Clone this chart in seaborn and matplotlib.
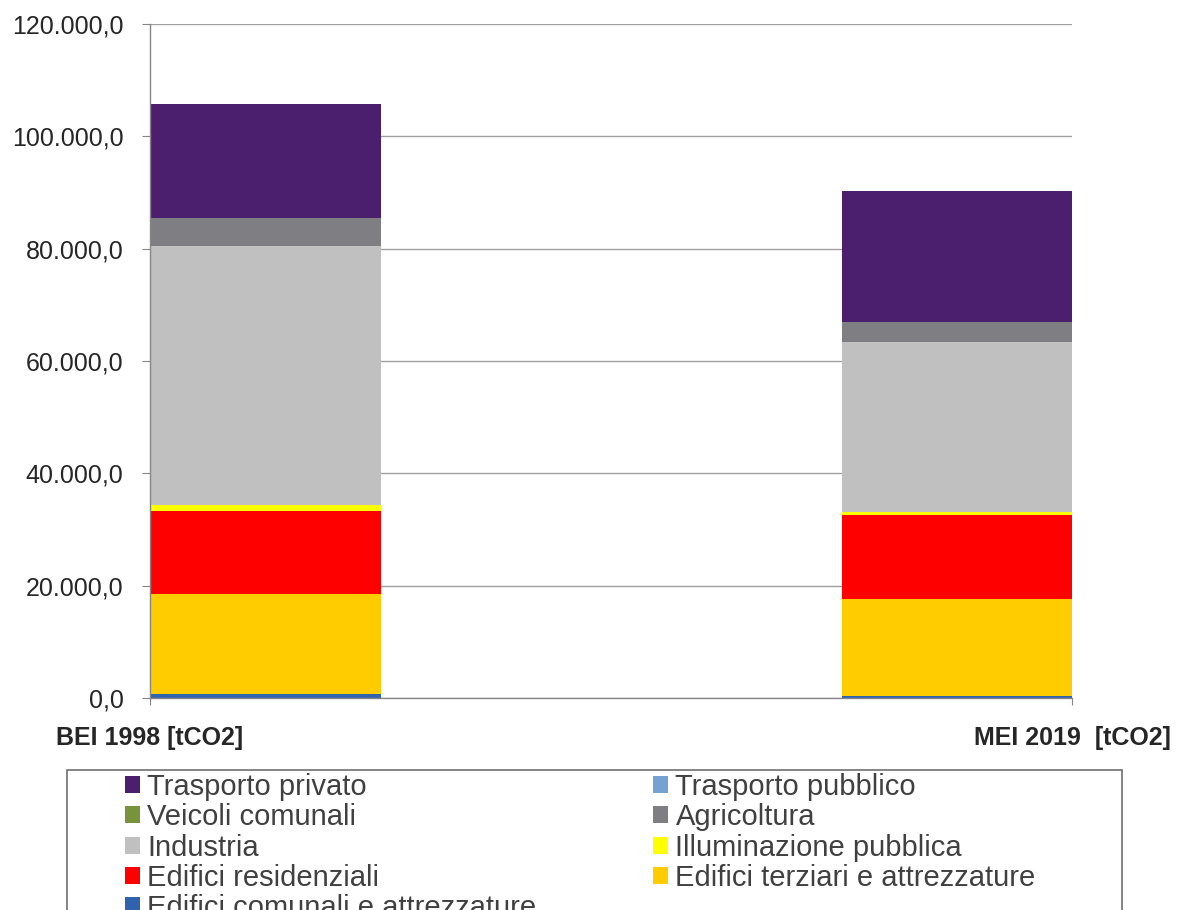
import numpy as np
import pandas as pd
import seaborn as sns
import matplotlib.pyplot as plt
from matplotlib.patches import Patch, Rectangle
from matplotlib.ticker import FuncFormatter, MultipleLocator

# ---- Dati emissioni (tCO2) ----
categorie = ['BEI 1998 [tCO2]', 'MEI 2019  [tCO2]']
edifici_comunali = [700, 400]
edifici_terziari = [17800, 17200]
edifici_residenziali = [14800, 14900]
illuminazione_pubblica = [1000, 600]
industria = [46100, 30250]
agricoltura = [5100, 3650]
veicoli_comunali = [0, 0]
trasporto_pubblico = [0, 0]
trasporto_privato = [20300, 23350]

# ordine di impilamento dal basso verso l'alto
settori = ['Edifici comunali e attrezzature', 'Edifici terziari e attrezzature',
           'Edifici residenziali', 'Illuminazione pubblica', 'Industria',
           'Agricoltura', 'Veicoli comunali', 'Trasporto pubblico', 'Trasporto privato']
valori = [edifici_comunali, edifici_terziari, edifici_residenziali,
          illuminazione_pubblica, industria, agricoltura, veicoli_comunali,
          trasporto_pubblico, trasporto_privato]
colori = ['#3063AE', '#FFCC00', '#FF0000', '#FFFF00', '#C0C0C0',
          '#7F7F83', '#77933C', '#77A1D3', '#4B1F6E']

df = pd.DataFrame(np.array(valori).T, columns=settori)
df['Categoria'] = categorie
cumulato = df[settori].cumsum(axis=1)

sns.set_style('white')
plt.rcParams['font.family'] = ['Liberation Sans', 'DejaVu Sans']

fig = plt.figure(figsize=(11.78, 9.10), dpi=100)
ax = fig.add_axes([150 / 1178, 1 - 698 / 910, (1072 - 150) / 1178, (698 - 24) / 910])

# barre impilate: si disegna prima il cumulato più alto
for settore, colore in reversed(list(zip(settori, colori))):
    sns.barplot(x=df['Categoria'], y=cumulato[settore], color=colore,
                saturation=1, width=0.5, errorbar=None, ax=ax, zorder=3,
                linewidth=0, edgecolor='none')

ax.set_xlim(0, 1)
ax.set_ylim(0, 120000)
ax.yaxis.set_major_locator(MultipleLocator(20000))
ax.yaxis.set_major_formatter(FuncFormatter(
    lambda v, p: f'{v:,.1f}'.replace(',', 'X').replace('.', ',').replace('X', '.')))
ax.set_xticks([0, 1])
ax.set_xticklabels(categorie, fontsize=18, fontweight='bold')
ax.set_xlabel('')
ax.set_ylabel('')

ax.grid(axis='y', color='#A0A0A0', linewidth=1, zorder=0)
ax.set_axisbelow(True)
for s in ['top', 'right']:
    ax.spines[s].set_visible(False)
for s in ['left', 'bottom']:
    ax.spines[s].set_color('#868686')
    ax.spines[s].set_linewidth(1)
    ax.spines[s].set_zorder(4)
ax.tick_params(axis='y', labelsize=18, length=6, color='#868686', pad=13, direction='out', left=True)
ax.tick_params(axis='x', length=5, color='#868686', pad=15, direction='out', bottom=True)

# legenda su due colonne, ordine per righe
ordine_legenda = settori[::-1]
handles = {s: Patch(facecolor=c, edgecolor='none', label=s) for s, c in zip(settori, colori)}
col1 = [ordine_legenda[i] for i in range(0, 9, 2)]
col2 = [ordine_legenda[i] for i in range(1, 9, 2)]
leg_kw = dict(loc='upper left', frameon=False, fontsize=21, borderpad=0,
              borderaxespad=0, labelspacing=0.08, handlelength=0.52,
              handleheight=0.52, handletextpad=0.25, labelcolor='#404040')
fig.legend(handles=[handles[s] for s in col1], bbox_to_anchor=(125 / 1178, 1 - 773 / 910), **leg_kw)
fig.legend(handles=[handles[s] for s in col2], bbox_to_anchor=(653 / 1178, 1 - 773 / 910), **leg_kw)
fig.patches.append(Rectangle((67 / 1178, -0.05), (1122 - 67) / 1178, 0.05 + 1 - 770 / 910,
                             transform=fig.transFigure, fill=False,
                             edgecolor='#6F6F6F', linewidth=1.2))

fig.savefig('out.png', dpi=100)
